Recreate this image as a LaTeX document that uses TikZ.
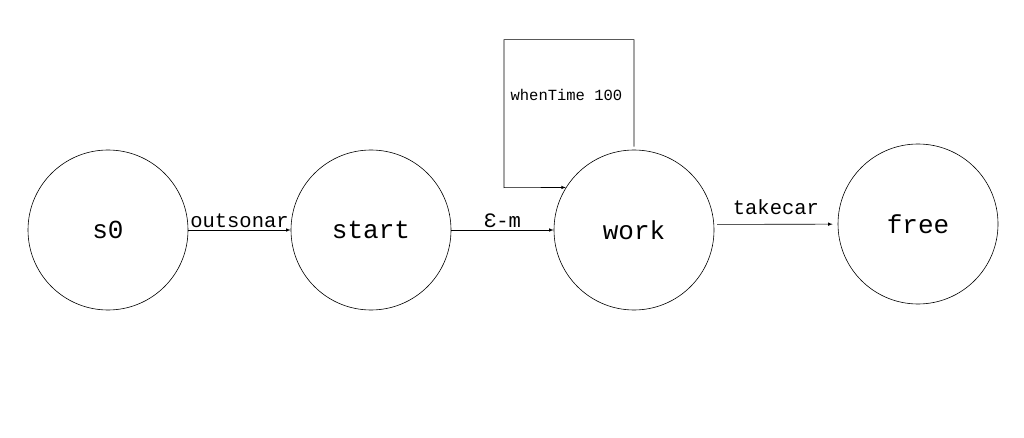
\documentclass[tikz,border=0pt]{standalone}
\usepackage{fontspec}
\setmonofont{Liberation Mono}
\usepackage{tikz}

\begin{document}
\begin{tikzpicture}[->,>=latex,x=1pt,y=-1pt,node distance=263pt,
  line width=0.6pt,main node/.style={circle,draw,minimum size=160pt,inner sep=0pt,font=\ttfamily\fontsize{26}{30}\selectfont}]
  \useasboundingbox (0,0) rectangle (1024,438);
  \node[main node] (s0) at (108,230) {s0};
  \node[main node] (start) [right of=s0] {start};
  \node[main node] (work) [right of=start] {work};
  \node[main node] (free) [right of=work,xshift=21pt,yshift=6pt] {free};

  \path[every node/.style={font=\ttfamily\fontsize{20.5}{24}\selectfont}]
    (s0) edge node[above,inner sep=1.5pt] {outsonar} (start)
    (start) edge node[above,inner sep=1.5pt] {Ɛ-m} (work)
    (work.4) edge [shorten <=3pt,shorten >=5pt] node[above=6pt] {takecar} (free);

  % self loop on work
  \draw[shorten <=3pt] (work.north) -- ++(0,-110) -| ++(-130,148) -- (work.148);
  \node[font=\ttfamily\fontsize{15.5}{18}\selectfont,anchor=west] (wt) at (507,95) {whenTime 100};
\end{tikzpicture}
\end{document}
